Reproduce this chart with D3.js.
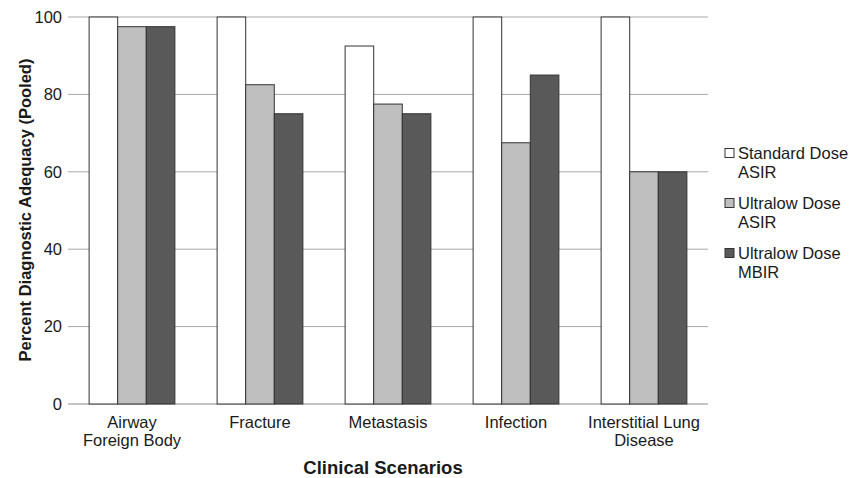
<!DOCTYPE html>
<html>
<head>
<meta charset="utf-8">
<script src="https://cdn.jsdelivr.net/npm/d3@7"></script>
<style>
  body { margin: 0; background: #fff; }
  text { font-family: "Liberation Sans", Arial, sans-serif; fill: #1a1a1a; }
</style>
</head>
<body>
<svg id="chart" width="860" height="478"></svg>
<script>
// categories and series
const categories = [['Airway', 'Foreign Body'], ['Fracture'], ['Metastasis'], ['Infection'], ['Interstitial Lung', 'Disease']];
const series_names = [['Standard Dose', 'ASIR'], ['Ultralow Dose', 'ASIR'], ['Ultralow Dose', 'MBIR']];
const standard_asir = [100, 100, 92.5, 100, 100];
const ultralow_asir = [97.5, 82.5, 77.5, 67.5, 60];
const ultralow_mbir = [97.5, 75, 75, 85, 60];
const y_ticks = [0, 20, 40, 60, 80, 100];

const colors = ['#ffffff', '#bfbfbf', '#595959'];
const all_series = [standard_asir, ultralow_asir, ultralow_mbir];

const margin = { top: 17, bottom: 74, left: 68, right: 152 };
const svg = d3.select('#chart');
const width = 860, height = 478;

const x0 = d3.scaleBand()
  .domain(d3.range(categories.length))
  .range([margin.left, width - margin.right])
  .paddingInner(0.33)
  .paddingOuter(0.165);

const x1 = d3.scaleBand()
  .domain(d3.range(series_names.length))
  .range([0, x0.bandwidth()]);

const y = d3.scaleLinear()
  .domain([0, 100])
  .range([height - margin.bottom, margin.top]);

// gridlines
svg.append('g')
  .selectAll('line')
  .data(y_ticks)
  .join('line')
  .attr('x1', margin.left)
  .attr('x2', width - margin.right)
  .attr('y1', d => y(d))
  .attr('y2', d => y(d))
  .attr('stroke', (d) => d === 0 ? '#8c8c8c' : '#a8a8a8')
  .attr('stroke-width', 1);

// y tick labels
svg.append('g')
  .selectAll('text')
  .data(y_ticks)
  .join('text')
  .attr('x', margin.left - 6)
  .attr('y', d => y(d))
  .attr('dy', '0.35em')
  .attr('text-anchor', 'end')
  .attr('font-size', 16.5)
  .text(d => d);

// bars
const groups = svg.append('g')
  .selectAll('g')
  .data(categories)
  .join('g')
  .attr('transform', (d, i) => `translate(${x0(i)},0)`);

groups.selectAll('rect')
  .data((d, i) => all_series.map((s, j) => ({ s: j, v: s[i] })))
  .join('rect')
  .attr('x', d => x1(d.s))
  .attr('y', d => y(d.v))
  .attr('width', x1.bandwidth())
  .attr('height', d => y(0) - y(d.v))
  .attr('fill', d => colors[d.s])
  .attr('stroke', '#333')
  .attr('stroke-width', 1);

// category labels
svg.append('g')
  .selectAll('text')
  .data(categories)
  .join('text')
  .attr('x', (d, i) => x0(i) + x0.bandwidth() / 2)
  .attr('y', y(0) + 24)
  .attr('text-anchor', 'middle')
  .attr('font-size', 16.5)
  .selectAll('tspan')
  .data(d => d)
  .join('tspan')
  .attr('x', function () { return d3.select(this.parentNode).attr('x'); })
  .attr('dy', (d, i) => i === 0 ? 0 : 18)
  .text(d => d);

// axis titles
svg.append('text')
  .attr('x', 383)
  .attr('y', 474)
  .attr('text-anchor', 'middle')
  .attr('font-size', 18.5)
  .attr('font-weight', 'bold')
  .text('Clinical Scenarios');

svg.append('text')
  .attr('transform', `translate(31,210) rotate(-90)`)
  .attr('text-anchor', 'middle')
  .attr('font-size', 16.5)
  .attr('font-weight', 'bold')
  .text('Percent Diagnostic Adequacy (Pooled)');

// legend
const legend = svg.append('g')
  .selectAll('g')
  .data(series_names)
  .join('g')
  .attr('transform', (d, i) => `translate(725,${153 + i * 50})`);

legend.append('rect')
  .attr('x', 0)
  .attr('y', -4.5)
  .attr('width', 9)
  .attr('height', 9)
  .attr('fill', (d, i) => colors[i])
  .attr('stroke', '#333');

legend.append('text')
  .attr('x', 13)
  .attr('y', 0)
  .attr('font-size', 16.5)
  .selectAll('tspan')
  .data(d => d)
  .join('tspan')
  .attr('x', 13)
  .attr('dy', (d, i) => i === 0 ? '0.35em' : 19.5)
  .text(d => d);
</script>
</body>
</html>
